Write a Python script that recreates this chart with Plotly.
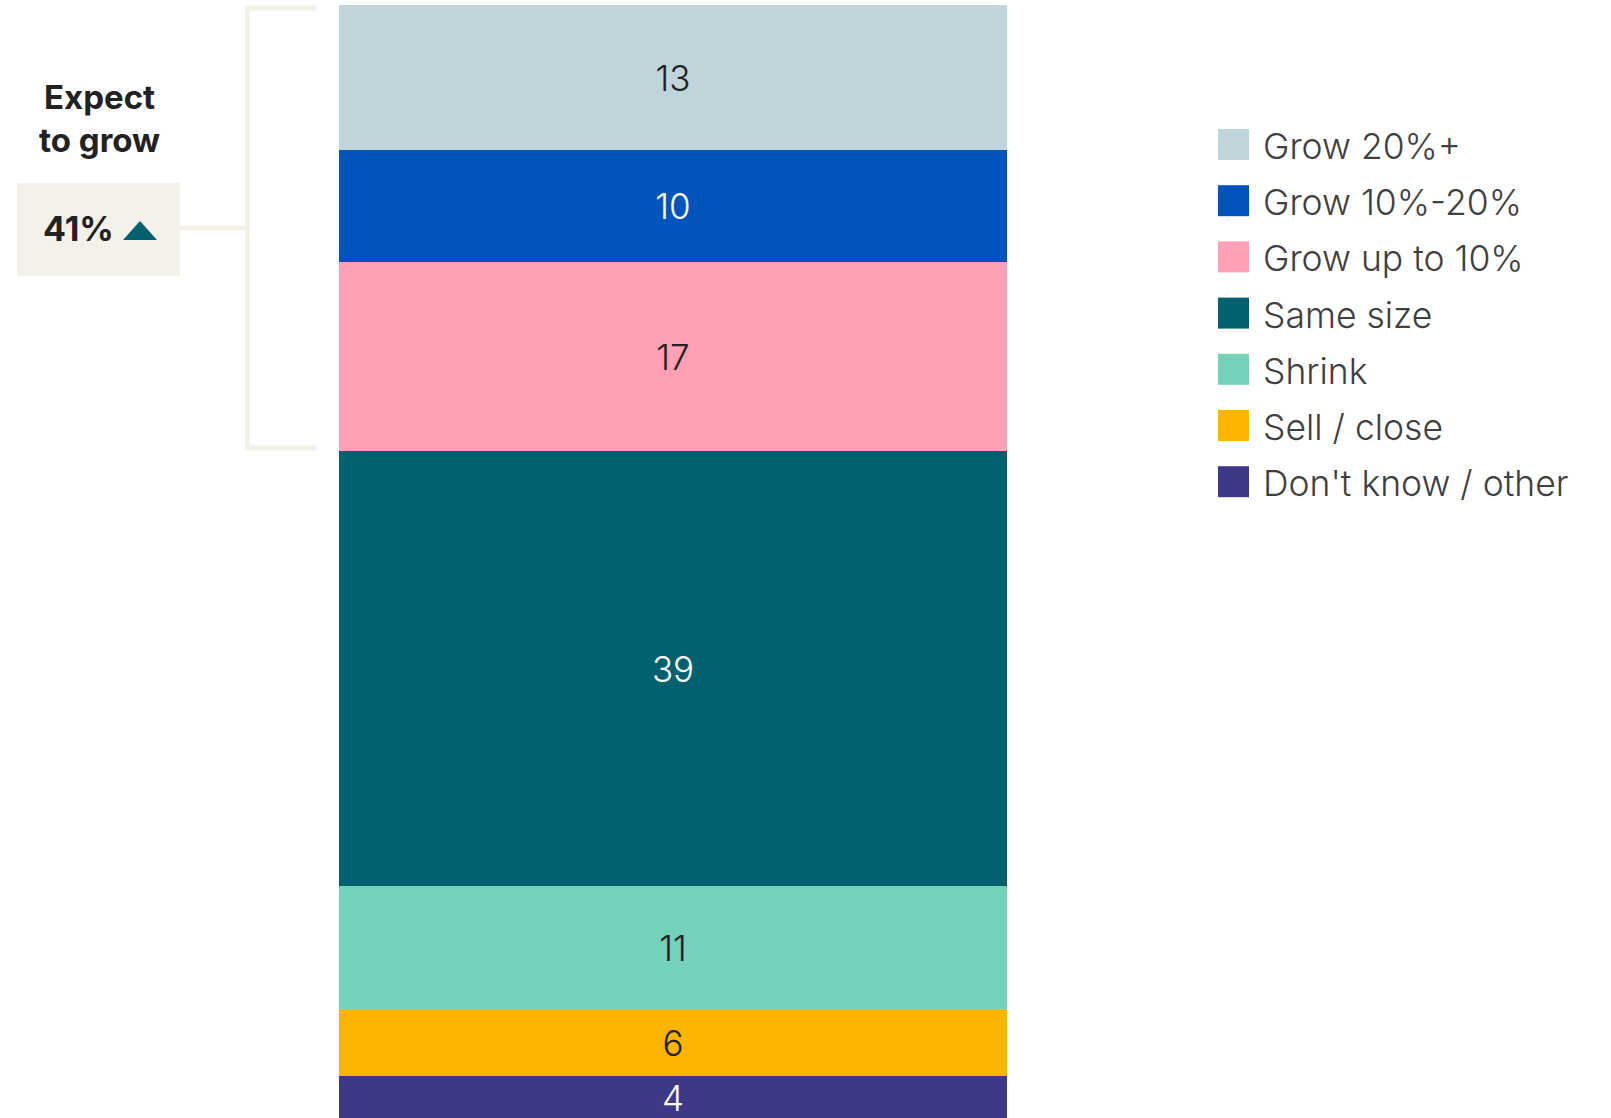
import plotly.graph_objects as go

W, H = 1611, 1118

# Survey answers, listed top of the stack to bottom
categories = ["Grow 20%+", "Grow 10%-20%", "Grow up to 10%", "Same size",
              "Shrink", "Sell / close", "Don't know / other"]
values = [13, 10, 17, 39, 11, 6, 4]
colors = ["#C0D4DB", "#0054BC", "#FFA0B4", "#03606F",
          "#74D1BA", "#FFB400", "#3D3887"]
label_colors = ["#222222", "#FFFFFF", "#222222", "#FFFFFF",
                "#222222", "#222222", "#FFFFFF"]

grow_total_label = "41%"
grow_header = "Expect<br>to grow"

FONT = "Inter"
BEIGE = "#F3F1E8"
TEAL = "#03606F"


def px(x):
    return x / W


def py(y):
    return 1 - y / H


fig = go.Figure()

# stacked column: bottom category first
for cat, val, col, lc in reversed(list(zip(categories, values, colors, label_colors))):
    fig.add_trace(go.Bar(
        x=["all"], y=[val], name=cat,
        marker=dict(color=col, line=dict(width=0)),
        text=[str(val)], textposition="inside", insidetextanchor="middle",
        textangle=0,
        textfont=dict(family=FONT, size=35, color=lc, weight=300),
        constraintext="none", showlegend=False, hoverinfo="name+y",
    ))

shapes = []
annotations = []

# legend: large swatches with labels
row0, row_step = 144.5, 56.2
for i, (cat, col) in enumerate(zip(categories, colors)):
    cy = row0 + i * row_step
    shapes.append(dict(type="rect", xref="paper", yref="paper",
                       x0=px(1218), x1=px(1249), y0=py(cy + 15.5), y1=py(cy - 15.5),
                       fillcolor=col, line=dict(width=0)))
    annotations.append(dict(text=cat, xref="paper", yref="paper",
                            x=px(1261), y=py(cy + 2), xanchor="left", yanchor="middle",
                            showarrow=False,
                            font=dict(family=FONT, size=35.5, color="#404040", weight=300)))

# bracket around the growth categories
grow_sum = sum(values[:3])
top_val = 100 - 0.27
bot_val = 100 - grow_sum + 0.27
mid_val = 100 - grow_sum / 2
line = dict(color=BEIGE, width=5)
shapes += [
    dict(type="line", xref="paper", yref="y", x0=px(247.5), x1=px(247.5),
         y0=bot_val, y1=top_val, line=line),
    dict(type="line", xref="paper", yref="y", x0=px(245), x1=px(316),
         y0=top_val, y1=top_val, line=line),
    dict(type="line", xref="paper", yref="y", x0=px(245), x1=px(316),
         y0=bot_val, y1=bot_val, line=line),
    dict(type="line", xref="paper", yref="y", x0=px(180), x1=px(247.5),
         y0=mid_val, y1=mid_val, line=line),
    dict(type="rect", xref="paper", yref="paper", x0=px(17), x1=px(180),
         y0=py(276), y1=py(183), fillcolor=BEIGE, line=dict(width=0)),
    dict(type="path", xref="paper", yref="paper",
         path=f"M {px(123)},{py(240)} L {px(157)},{py(240)} L {px(140)},{py(221)} Z",
         fillcolor=TEAL, line=dict(width=0)),
]

annotations += [
    dict(text=f"<b>{grow_header}</b>", xref="paper", yref="paper",
         x=px(99), y=py(118), xanchor="center", yanchor="middle", showarrow=False,
         align="center",
         font=dict(family=FONT, size=33, color="#222222")),
    dict(text=f"<b>{grow_total_label}</b>", xref="paper", yref="paper",
         x=px(41), y=py(228), xanchor="left", yanchor="middle", showarrow=False,
         font=dict(family=FONT, size=34, color="#222222")),
]

fig.update_layout(
    width=W, height=H,
    margin=dict(l=0, r=0, t=0, b=0),
    paper_bgcolor="white", plot_bgcolor="white",
    barmode="stack", bargap=0,
    xaxis=dict(domain=[px(339), px(1007)], visible=False, fixedrange=True),
    yaxis=dict(domain=[0, py(5)], range=[0.2, 100], visible=False, fixedrange=True),
    shapes=shapes, annotations=annotations,
    showlegend=False,
)

fig.write_html("out.html")
